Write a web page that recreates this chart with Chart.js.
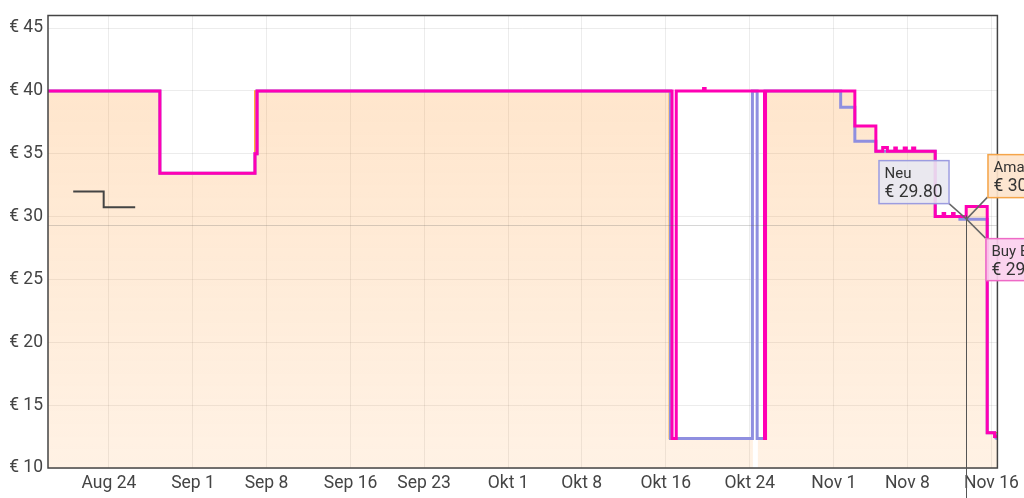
<!DOCTYPE html>
<html lang="de">
<head>
<meta charset="UTF-8">
<title>Preisverlauf</title>
<script src="https://cdn.jsdelivr.net/npm/chart.js"></script>
<style>
  body { margin: 0; background: #fff; }
  .chart-container { width: 1024px; height: 498px; position: relative; }
</style>
</head>
<body>
<div class="chart-container"><canvas id="chart"></canvas></div>
<script>
// x values are days counted from Aug 24
const xTickDays = [0, 8, 15, 23, 30, 38, 45, 53, 61, 69, 76, 84];
const xTickLabels = ['Aug 24', 'Sep 1', 'Sep 8', 'Sep 16', 'Sep 23', 'Okt 1', 'Okt 8', 'Okt 16', 'Okt 24', 'Nov 1', 'Nov 8', 'Nov 16'];
const yTicks = [10, 15, 20, 25, 30, 35, 40, 45];

// each point = day the price changed, new price (null = no data)
const amazonDays   = [-5.8, 4.85, 13.9, 53.35, 61.3, 61.31, 61.75, 62.55, 71.0, 73.0, 78.65, 81.6, 83.6, 84.57];
const amazonPrices = [40, 33.45, 40, 12.35, 12.35, null, 12.35, 40, 37.2, 35.2, 30.0, 30.8, 12.8, 12.8];

const buyBoxDays   = [-5.8, 4.85, 13.9, 14.1, 53.6, 54.0, 56.6, 56.75, 62.4, 62.5, 71.0, 73.0, 73.65, 74.1, 74.8, 74.95, 75.7, 75.9, 76.5, 76.7, 78.65, 79.4, 79.55, 80.3, 80.45, 81.6, 83.6, 84.3, 84.57];
const buyBoxPrices = [40, 33.45, 35.0, 40, 12.35, 40, 40.2, 40, 12.35, 40, 37.2, 35.2, 35.5, 35.2, 35.45, 35.2, 35.45, 35.2, 35.45, 35.2, 30.0, 30.25, 30.0, 30.25, 30.0, 30.8, 12.8, 12.5, 12.5];

const newDays   = [-5.8, 4.85, 13.9, 14.1, 53.45, 61.25, 61.7, 62.45, 69.65, 71.0, 73.0, 78.65, 81.0, 83.6, 84.3, 84.57];
const newPrices = [40, 33.45, 35.0, 40, 12.35, 40, 12.35, 40, 38.7, 36.0, 35.2, 30.0, 29.8, 12.8, 12.5, 12.5];

const usedDays   = [-3.4, -0.5, 2.5];
const usedPrices = [32.0, 30.75, 30.75];

const hoverDay = 81.54;
const hoverLine = 29.3;
const tipNew = ['Neu', '€ 29.80'];
const tipAmazon = ['Amazon', '€ 30.00'];
const tipBuyBox = ['Buy Box', '€ 29.99'];

function toPoints(days, prices) {
    return days.map((d, i) => ({ x: d, y: prices[i] }));
}

const font = 'Roboto, "Noto Sans", sans-serif';

const overlay = {
    id: 'overlay',
    afterDraw(chart) {
        const ctx = chart.ctx;
        const a = chart.chartArea;
        const xs = chart.scales.x, ys = chart.scales.y;
        ctx.save();

        // plot frame
        ctx.strokeStyle = '#444';
        ctx.lineWidth = 1.5;
        ctx.strokeRect(a.left, a.top, a.right - a.left, a.bottom - a.top);

        // crosshair
        const px = Math.round(xs.getPixelForValue(hoverDay)) + 0.5;
        const py = ys.getPixelForValue(29.8);
        ctx.lineWidth = 1;
        ctx.strokeStyle = 'rgba(90,90,90,0.25)';
        ctx.beginPath();
        const hy = Math.round(ys.getPixelForValue(hoverLine)) + 0.5;
        ctx.moveTo(a.left, hy); ctx.lineTo(a.right, hy);
        ctx.stroke();
        ctx.strokeStyle = '#555';
        ctx.beginPath();
        ctx.moveTo(px, ys.getPixelForValue(30.1)); ctx.lineTo(px, chart.height);
        ctx.stroke();

        // tooltip boxes
        const boxes = [
            { t: tipNew, x: px - 88, y: py - 59, w: 70, h: 43, cx: px - 18, cy: py - 16, bg: 'rgba(232,232,242,0.9)', bd: '#9c9ce0' },
            { t: tipAmazon, x: px + 21, y: py - 65, w: 90, h: 43, cx: px + 21, cy: py - 22, bg: 'rgba(253,228,204,0.92)', bd: '#f5a54a' },
            { t: tipBuyBox, x: px + 19, y: py + 19, w: 90, h: 42, cx: px + 19, cy: py + 19, bg: 'rgba(251,208,238,0.92)', bd: '#ee6ac6' }
        ];
        ctx.strokeStyle = '#666';
        ctx.lineWidth = 1.5;
        boxes.forEach(b => {
            ctx.beginPath();
            ctx.moveTo(b.cx, b.cy); ctx.lineTo(px, py);
            ctx.stroke();
        });
        boxes.forEach(b => {
            ctx.fillStyle = b.bg;
            ctx.fillRect(b.x, b.y, b.w, b.h);
            ctx.strokeStyle = b.bd;
            ctx.lineWidth = 1.5;
            ctx.strokeRect(b.x + 0.5, b.y + 0.5, b.w, b.h);
            ctx.fillStyle = '#333';
            ctx.textBaseline = 'alphabetic';
            ctx.font = '15px ' + font;
            ctx.fillText(b.t[0], b.x + 6, b.y + 18);
            ctx.font = '17.5px ' + font;
            ctx.fillText(b.t[1], b.x + 6, b.y + 37);
        });
        ctx.restore();
    }
};

new Chart(document.getElementById('chart'), {
    type: 'line',
    data: {
        datasets: [
            {
                label: 'Buy Box',
                data: toPoints(buyBoxDays, buyBoxPrices),
                borderColor: '#ff00b4',
                borderWidth: 3,
                stepped: true,
                pointRadius: 0,
                fill: false
            },
            {
                label: 'Neu',
                data: toPoints(newDays, newPrices),
                borderColor: '#8f8fe0',
                borderWidth: 3,
                stepped: true,
                pointRadius: newDays.map((d, i) => i === newDays.length - 1 ? 3.5 : 0),
                pointBackgroundColor: '#8f8fe0',
                pointBorderWidth: 0,
                fill: false
            },
            {
                label: 'Gebraucht',
                data: toPoints(usedDays, usedPrices),
                borderColor: '#444',
                borderWidth: 2,
                stepped: true,
                pointRadius: 0,
                fill: false
            },
            {
                label: 'Amazon',
                data: toPoints(amazonDays, amazonPrices),
                borderColor: '#ff9900',
                borderWidth: 1.5,
                stepped: true,
                pointRadius: 0,
                spanGaps: false,
                fill: 'start',
                backgroundColor: (c) => {
                    const area = c.chart.chartArea;
                    if (!area) return 'rgba(255,153,51,0.25)';
                    const g = c.chart.ctx.createLinearGradient(0, area.top, 0, area.bottom);
                    g.addColorStop(0, 'rgba(255,153,51,0.27)');
                    g.addColorStop(1, 'rgba(255,153,51,0.13)');
                    return g;
                }
            }
        ]
    },
    options: {
        responsive: true,
        maintainAspectRatio: false,
        animation: false,
        layout: { padding: { top: 9, right: 26, left: 0, bottom: 0 } },
        plugins: {
            legend: { display: false },
            tooltip: { enabled: false }
        },
        scales: {
            x: {
                type: 'linear',
                min: -5.8,
                max: 84.57,
                afterBuildTicks: (s) => { s.ticks = xTickDays.map(v => ({ value: v })); },
                afterFit: (s) => { s.height = 30; },
                grid: { color: 'rgba(0,0,0,0.075)', drawTicks: false },
                border: { display: false },
                ticks: {
                    autoSkip: false,
                    maxRotation: 0,
                    padding: 5,
                    color: '#444',
                    font: { family: font, size: 17.5 },
                    callback: (v) => xTickLabels[xTickDays.indexOf(v)]
                }
            },
            y: {
                type: 'linear',
                min: 10,
                max: 46,
                afterBuildTicks: (s) => { s.ticks = yTicks.map(v => ({ value: v })); },
                afterFit: (s) => { s.width = 48; },
                grid: { color: 'rgba(0,0,0,0.075)', drawTicks: false },
                border: { display: false },
                ticks: {
                    padding: 5,
                    color: '#444',
                    font: { family: font, size: 17.5 },
                    callback: (v) => '€ ' + v
                }
            }
        }
    },
    plugins: [overlay]
});
</script>
</body>
</html>
